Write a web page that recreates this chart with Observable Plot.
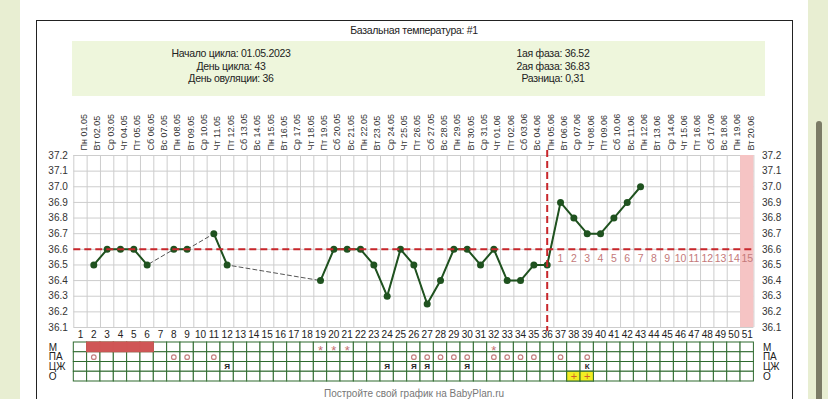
<!DOCTYPE html>
<html><head><meta charset="utf-8">
<script src="https://cdn.jsdelivr.net/npm/d3@7"></script>
<script src="https://cdn.jsdelivr.net/npm/@observablehq/plot@0.6"></script>
<style>
body{margin:0;width:828px;height:399px;overflow:hidden;background:#e8eed2;font-family:"Liberation Sans",Arial,sans-serif;position:relative}
#page{position:absolute;left:20px;top:0;width:788px;height:399px;background:#fff}
#frame{position:absolute;left:36px;top:20px;width:755px;height:420px;border:1px solid #222;border-bottom:none}
#title{position:absolute;left:0;width:828px;top:24px;text-align:center;font-size:10.5px;letter-spacing:-0.3px;color:#222}
#info{position:absolute;left:72px;top:41px;width:693px;height:55px;background:#eef6dc}
.col{position:absolute;top:5px;width:300px;text-align:center;font-size:10.5px;letter-spacing:-0.3px;line-height:12.5px;color:#222}
#scroll{position:absolute;left:816px;top:121px;width:6px;height:300px;background:#7b7b66;border-radius:3px}
#chart,#table{position:absolute;left:0}
#chart{top:100px}
#table{top:341px}
#footer{position:absolute;top:388px;left:0;width:828px;text-align:center;font-size:10px;color:#777}
</style></head>
<body>
<div id="page"></div>
<div id="frame"></div>
<div id="scroll"></div>
<div id="title">Базальная температура: #1</div>
<div id="info">
  <div class="col" style="left:9px;top:6px">Начало цикла: 01.05.2023<br>День цикла: 43<br>День овуляции: 36</div>
  <div class="col" style="left:331px;top:6px">1ая фаза: 36.52<br>2ая фаза: 36.83<br>Разница: 0,31</div>
</div>
<div id="chart"></div>
<div id="table"></div>
<div id="footer">Постройте свой график на BabyPlan.ru</div>
<script>
// ---- data ----
const dateLabels = ["Пн 01.05","Вт 02.05","Ср 03.05","Чт 04.05","Пт 05.05","Сб 06.05","Вс 07.05","Пн 08.05","Вт 09.05","Ср 10.05","Чт 11.05","Пт 12.05","Сб 13.05","Вс 14.05","Пн 15.05","Вт 16.05","Ср 17.05","Чт 18.05","Пт 19.05","Сб 20.05","Вс 21.05","Пн 22.05","Вт 23.05","Ср 24.05","Чт 25.05","Пт 26.05","Сб 27.05","Вс 28.05","Пн 29.05","Вт 30.05","Ср 31.05","Чт 01.06","Пт 02.06","Сб 03.06","Вс 04.06","Пн 05.06","Вт 06.06","Ср 07.06","Чт 08.06","Пт 09.06","Сб 10.06","Вс 11.06","Пн 12.06","Вт 13.06","Ср 14.06","Чт 15.06","Пт 16.06","Сб 17.06","Вс 18.06","Пн 19.06","Вт 20.06"];
const temps = [null,36.5,36.6,36.6,36.6,36.5,null,36.6,36.6,null,36.7,36.5,null,null,null,null,null,null,36.4,36.6,36.6,36.6,36.5,36.3,36.6,36.5,36.25,36.4,36.6,36.6,36.5,36.6,36.4,36.4,36.5,36.5,36.9,36.8,36.7,36.7,36.8,36.9,37.0,null,null,null,null,null,null,null,null];
const yTicks = [36.1,36.2,36.3,36.4,36.5,36.6,36.7,36.8,36.9,37.0,37.1,37.2];
const coverline = 36.6;
const ovulationDay = 36;
const postLabels = ["1","2","3","4","5","6","7","8","9","10","11","12","13","14","15"];
const markedDays = [51];
const rowNames = ["М","ПА","ЦЖ","О"];
const mensDays = [2,3,4,5,6];
const starDays = [19,20,21,32];
const circleDays = [2,8,9,11,26,27,28,29,30,32,33,34,35,37,39];
const mucusDays = [12,24,26,27,30,39];
const mucusMarks = ["Я","Я","Я","Я","Я","К"];
const testDays = [38,39];

// ---- derived tables ----
const days = dateLabels.map((_, i) => i + 1);
const series = days.map((d, i) => ({day: d, t: temps[i]}));
const defined = series.filter(d => d.t != null);
const boundaries = [...days.map(d => d - 0.5), days[days.length - 1] + 0.5];
const mucus = mucusDays.map((d, i) => ({day: d, t: mucusMarks[i]}));
const cells = d3.cross(days, rowNames).map(([day, row]) => ({day, row}));

const ML = 73.3, MR = 74.6;
const font = {fontFamily: "'Liberation Sans', Arial, sans-serif", fontSize: "10px", background: "transparent", overflow: "visible", color: "#333"};
const red = "#c8262b";

const chart = Plot.plot({
  width: 828, height: 240,
  marginLeft: ML, marginRight: MR, marginTop: 55, marginBottom: 13,
  x: {domain: [0.5, 51.5], axis: null},
  y: {domain: [36.1, 37.2], axis: null},
  style: font,
  marks: [
    Plot.ruleY(yTicks, {stroke: "#cdcdcd"}),
    Plot.ruleX(boundaries, {stroke: "#cdcdcd"}),
    Plot.rect(markedDays, {x1: d => d - 0.5, x2: d => d + 0.5, fill: "#f6c4c4"}),
    Plot.axisY(yTicks, {anchor: "left", tickSize: 0, tickPadding: 6, tickFormat: d => d.toFixed(1), label: null, fill: "#333"}),
    Plot.axisY(yTicks, {anchor: "right", tickSize: 0, tickPadding: 8, tickFormat: d => d.toFixed(1), label: null, fill: "#333"}),
    Plot.axisX(days, {anchor: "bottom", tickSize: 0, tickPadding: 3, tickFormat: d => String(d), label: null, fill: "#222"}),
    Plot.text(days, {x: d => d, frameAnchor: "top", rotate: -90, textAnchor: "start", dy: -5, text: d => dateLabels[d - 1], fontSize: 9, fill: "#333"}),
    Plot.line(defined, {x: "day", y: "t", stroke: "#555", strokeWidth: 1, strokeDasharray: "4,3"}),
    Plot.line(series, {x: "day", y: "t", stroke: "#1f521f", strokeWidth: 2}),
    Plot.dot(defined, {x: "day", y: "t", r: 3.5, fill: "#1f521f"}),
    Plot.text(postLabels, {x: (d, i) => ovulationDay + i + 1, y: () => coverline, dy: 9, text: d => d, fill: "#c47a7a", fontSize: 10.5}),
    Plot.ruleY([coverline], {stroke: red, strokeWidth: 2, strokeDasharray: "7,4"}),
    Plot.ruleX([ovulationDay], {stroke: red, strokeWidth: 2, strokeDasharray: "7,4", insetTop: -5, insetBottom: -4})
  ]
});
document.getElementById("chart").append(chart);

const table = Plot.plot({
  width: 828, height: 41,
  marginLeft: ML, marginRight: MR, marginTop: 1, marginBottom: 1,
  x: {type: "band", domain: days, padding: 0, round: false, axis: null},
  y: {type: "band", domain: rowNames, padding: 0, round: false, axis: null},
  style: font,
  marks: [
    Plot.cell(cells, {x: "day", y: "row", fill: "white", stroke: "#2e6a2e"}),
    Plot.cell(mensDays, {x: d => d, y: () => "М", fill: "#d05656", stroke: "#d05656"}),
    Plot.cell(testDays, {x: d => d, y: () => "О", fill: "#f2ee22", stroke: "#2e6a2e"}),
    Plot.text(starDays, {x: d => d, y: () => "М", text: () => "*", fill: "#c47070", fontSize: 13, dy: 3}),
    Plot.dot(circleDays, {x: d => d, y: () => "ПА", r: 2.3, stroke: "#c48080", strokeWidth: 1.2}),
    Plot.text(mucus, {x: "day", y: () => "ЦЖ", text: "t", fontSize: 8, fill: "#222", fontWeight: "bold"}),
    Plot.text(testDays, {x: d => d, y: () => "О", text: () => "+", fill: "#d0602a", fontSize: 11}),
    Plot.text(rowNames, {y: d => d, frameAnchor: "left", textAnchor: "start", dx: -25, text: d => d, fontSize: 10, fill: "#222"}),
    Plot.text(rowNames, {y: d => d, frameAnchor: "right", textAnchor: "start", dx: 9, text: d => d, fontSize: 10, fill: "#222"})
  ]
});
document.getElementById("table").append(table);
</script>
</body></html>
